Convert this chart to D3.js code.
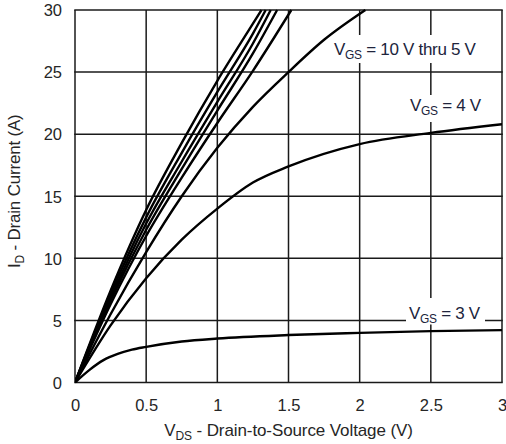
<!DOCTYPE html>
<html>
<head>
<meta charset="utf-8">
<script src="https://cdn.jsdelivr.net/npm/d3@7/dist/d3.min.js"></script>
<style>
  html, body { margin: 0; padding: 0; background: #fff; }
  svg { display: block; }
  text { font-family: "Liberation Sans", Arial, Helvetica, sans-serif; }
</style>
</head>
<body>
<svg id="chart" width="506" height="444"></svg>
<script>
// ---- data ----
const xTicks = [0, 0.5, 1, 1.5, 2, 2.5, 3];
const yTicks = [0, 5, 10, 15, 20, 25, 30];
const xTickLabels = ["0", "0.5", "1", "1.5", "2", "2.5", "3"];
const yTickLabels = ["0", "5", "10", "15", "20", "25", "30"];

const vds_10V = [0, 0.25, 0.5, 0.75, 1.0, 1.25, 1.31];
const id_10V  = [0, 7.4, 13.9, 19.3, 24.3, 28.9, 30];
const vds_9V  = [0, 0.25, 0.5, 0.75, 1.0, 1.25, 1.34];
const id_9V   = [0, 7.1, 13.3, 18.5, 23.4, 28.1, 30];
const vds_8V  = [0, 0.25, 0.5, 0.75, 1.0, 1.25, 1.375];
const id_8V   = [0, 6.8, 12.8, 17.8, 22.6, 27.3, 30];
const vds_7V  = [0, 0.25, 0.5, 0.75, 1.0, 1.25, 1.42];
const id_7V   = [0, 6.6, 12.3, 17.2, 21.9, 26.5, 30];
const vds_6V  = [0, 0.25, 0.5, 0.75, 1.0, 1.25, 1.52];
const id_6V   = [0, 6.3, 11.8, 16.5, 20.9, 25.1, 30];
const vds_5V  = [0, 0.25, 0.5, 0.75, 1.0, 1.25, 1.5, 1.75, 2.04];
const id_5V   = [0, 5.5, 10.5, 15.0, 18.9, 22.2, 25.0, 27.6, 30];
const vds_4V  = [0, 0.25, 0.5, 0.75, 1.0, 1.25, 1.5, 2.0, 2.5, 3.0];
const id_4V   = [0, 4.6, 8.4, 11.5, 14.0, 16.1, 17.4, 19.2, 20.1, 20.8];
const vds_3V  = [0, 0.1, 0.2, 0.3, 0.4, 0.5, 0.75, 1.0, 1.5, 2.0, 2.5, 3.0];
const id_3V   = [0, 1.0, 1.8, 2.3, 2.65, 2.87, 3.3, 3.54, 3.82, 4.0, 4.14, 4.22];

const seriesNames = ["10V", "9V", "8V", "7V", "6V", "5V", "4V", "3V"];
const seriesVds = [vds_10V, vds_9V, vds_8V, vds_7V, vds_6V, vds_5V, vds_4V, vds_3V];
const seriesId  = [id_10V, id_9V, id_8V, id_7V, id_6V, id_5V, id_4V, id_3V];

const labelMain = ["V", "GS", " = 10 V thru 5 V"];
const label4 = ["V", "GS", " = 4 V"];
const label3 = ["V", "GS", " = 3 V"];
const xTitle = ["V", "DS", " - Drain-to-Source Voltage (V)"];
const yTitle = ["I", "D", " - Drain Current (A)"];

// ---- chart ----
const svg = d3.select("#chart");
const x = d3.scaleLinear().domain([0, 3]).range([75, 502]);
const y = d3.scaleLinear().domain([0, 30]).range([382.5, 10]);

const gridColor = "#1a1a1a";
const textColor = "#262626";
const labelColor = "#20243c";

// grid lines
const grid = svg.append("g");
grid.selectAll("line.v").data(xTicks).join("line")
  .attr("x1", d => x(d)).attr("x2", d => x(d))
  .attr("y1", y(0)).attr("y2", y(30))
  .attr("stroke", gridColor).attr("stroke-width", 1.5);
grid.selectAll("line.h").data(yTicks).join("line")
  .attr("y1", d => y(d)).attr("y2", d => y(d))
  .attr("x1", x(0) - 0.75).attr("x2", x(3) + 0.75)
  .attr("stroke", gridColor).attr("stroke-width", 1.5);

// white label background boxes (interrupt grid lines)
const boxes = [
  {x0: 330, x1: 481, y0: 35, y1: 63},
  {x0: 405, x1: 489, y0: 95, y1: 122},
  {x0: 406, x1: 485, y0: 298, y1: 324.5}
];
svg.append("g").selectAll("rect").data(boxes).join("rect")
  .attr("x", d => d.x0).attr("y", d => d.y0)
  .attr("width", d => d.x1 - d.x0).attr("height", d => d.y1 - d.y0)
  .attr("fill", "#fff");

// curves
const defs = svg.append("defs");
defs.append("clipPath").attr("id", "plotclip").append("rect")
  .attr("x", x(0)).attr("y", y(30) - 1).attr("width", x(3) - x(0)).attr("height", y(0) - y(30) + 2);

const line = d3.line()
  .x(d => x(d[0])).y(d => y(d[1]))
  .curve(d3.curveMonotoneX);

const curves = seriesNames.map((n, i) => seriesVds[i].map((v, j) => [v, seriesId[i][j]]));
svg.append("g").attr("clip-path", "url(#plotclip)")
  .selectAll("path").data(curves).join("path")
  .attr("d", line)
  .attr("fill", "none")
  .attr("stroke", "#000")
  .attr("stroke-width", 2.4)
  .attr("stroke-linejoin", "round");

// axis tick labels
const xAxis = d3.axisBottom(x).tickValues(xTicks).tickSize(0).tickPadding(0)
  .tickFormat((d, i) => xTickLabels[i]);
const gx = svg.append("g").attr("transform", `translate(0,${y(0)})`).call(xAxis);
gx.select(".domain").remove();
gx.selectAll("text").attr("dy", null).attr("y", 28.5)
  .attr("font-size", 16.5).attr("fill", textColor).attr("font-family", null);

const yAxis = d3.axisLeft(y).tickValues(yTicks).tickSize(0).tickPadding(0)
  .tickFormat((d, i) => yTickLabels[i]);
const gy = svg.append("g").attr("transform", `translate(62,0)`).call(yAxis);
gy.select(".domain").remove();
gy.selectAll("text").attr("x", 0).attr("dy", "0.35em")
  .attr("font-size", 16.5).attr("fill", textColor).attr("font-family", null);

// helper to write text with subscript
function subText(g, parts, size, subSize, color) {
  const t = g.append("text").attr("font-size", size).attr("fill", color);
  t.append("tspan").text(parts[0]);
  t.append("tspan").attr("font-size", subSize).attr("dy", 4).text(parts[1]);
  t.append("tspan").attr("dy", -4).text(parts[2]);
  return t;
}

// annotations
subText(svg, labelMain, 17, 12, labelColor)
  .attr("x", 334).attr("y", 54.5).attr("letter-spacing", -0.3);
subText(svg, label4, 17, 12, labelColor)
  .attr("x", 410).attr("y", 110.5).attr("letter-spacing", -0.3);
subText(svg, label3, 17, 12, labelColor)
  .attr("x", 409).attr("y", 318.5).attr("letter-spacing", -0.3);

// axis titles
subText(svg, xTitle, 17, 12, textColor)
  .attr("x", (x(0) + x(3)) / 2).attr("y", 435.5)
  .attr("text-anchor", "middle").attr("letter-spacing", -0.1);
subText(svg, yTitle, 17, 12, textColor)
  .attr("transform", `translate(20,${(y(0) + y(30)) / 2 - 5}) rotate(-90)`)
  .attr("text-anchor", "middle").attr("letter-spacing", -0.2);
</script>
</body>
</html>
